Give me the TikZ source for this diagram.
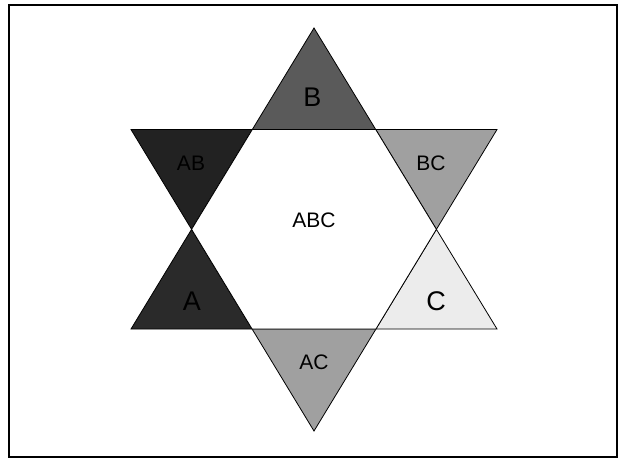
\documentclass[tikz,border=0pt]{standalone}
\usepackage{fontspec}
\setmainfont{Liberation Sans}
\definecolor{cB}{HTML}{5A5A5A}
\definecolor{cAB}{HTML}{222222}
\definecolor{cA}{HTML}{2A2A2A}
\definecolor{cBC}{HTML}{A0A0A0}
\definecolor{cC}{HTML}{ECECEC}
\definecolor{cAC}{HTML}{A0A0A0}
\tikzset{
  tri/.style={draw=black, line width=0.8pt, line join=miter},
  big/.style={font=\fontsize{27}{27}\selectfont, inner sep=0pt},
  small/.style={font=\fontsize{21}{21}\selectfont, inner sep=0pt},
  frame/.style={draw=black, line width=2pt}
}
\begin{document}
\begin{tikzpicture}[x=1pt,y=-1pt]
\useasboundingbox (0,0) rectangle (621,459);
\fill[white] (0,0) rectangle (621,459);
\draw[frame] (9,4.5) rectangle (617,456.5);
% up triangle
\coordinate (ua) at (314,28);
\coordinate (ul) at (131,329);
\coordinate (ur) at (497,329);
% down triangle
\coordinate (dl) at (131,129.5);
\coordinate (dr) at (497,129.5);
\coordinate (da) at (314,431);
% hexagon vertices
\coordinate (p1) at (intersection of ua--ul and dl--dr);
\coordinate (p2) at (intersection of ua--ur and dl--dr);
\coordinate (q1) at (intersection of da--dl and ul--ur);
\coordinate (q2) at (intersection of da--dr and ul--ur);
\coordinate (ml) at (intersection of ua--ul and dl--da);
\coordinate (mr) at (intersection of ua--ur and dr--da);
% triangles
\filldraw[tri, fill=cB] (ua) -- (p1) -- (p2) -- cycle;
\filldraw[tri, fill=cAB] (dl) -- (p1) -- (ml) -- cycle;
\filldraw[tri, fill=cA] (ul) -- (ml) -- (q1) -- cycle;
\filldraw[tri, fill=cAC] (q1) -- (q2) -- (da) -- cycle;
\filldraw[tri, fill=cC] (ur) -- (mr) -- (q2) -- cycle;
\filldraw[tri, fill=cBC] (dr) -- (p2) -- (mr) -- cycle;
\filldraw[tri, fill=white] (p1) -- (p2) -- (mr) -- (q2) -- (q1) -- (ml) -- cycle;
% labels
\node[big] (lB) at (312.5,97.5) {B};
\node[big] (lA) at (192,301) {A};
\node[big] (lC) at (436,301) {C};
\node[small] (lAB) at (191,163) {AB};
\node[small] (lBC) at (431,163) {BC};
\node[small] (lAC) at (314,362) {AC};
\node[small] (lABC) at (314,220) {ABC};
\end{tikzpicture}
\end{document}
